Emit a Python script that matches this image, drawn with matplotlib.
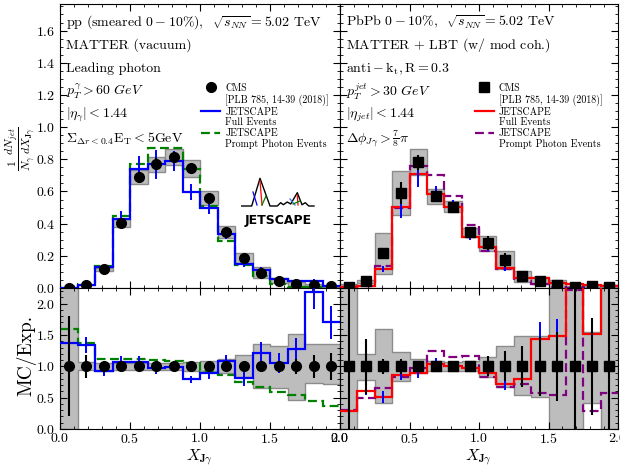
import numpy as np
import matplotlib
matplotlib.use("Agg")
import matplotlib.pyplot as plt
from matplotlib.ticker import MultipleLocator, AutoMinorLocator
from matplotlib.lines import Line2D

plt.rcParams['font.family'] = 'cmr10'
plt.rcParams['mathtext.fontset'] = 'cm'
plt.rcParams['axes.formatter.use_mathtext'] = True
plt.rcParams['axes.unicode_minus'] = False

# binning of X_Jgamma
edges = np.linspace(0, 2.0, 17)
centers = 0.5 * (edges[:-1] + edges[1:])

# ---- pp (left) ----
cms_pp = [0.0, 0.02, 0.115, 0.405, 0.69, 0.77, 0.815, 0.745,
          0.56, 0.345, 0.185, 0.095, 0.045, 0.025, 0.02, 0.01]
cms_pp_stat = [0.8, 0.18, 0.04, 0.04, 0.04, 0.05, 0.04, 0.04,
               0.05, 0.06, 0.08, 0.06, 0.08, 0.12, 0.18, 0.22]   # relative
cms_pp_sys_lo = [0.0, 0.94, 0.93, 0.94, 0.94, 0.94, 0.94, 0.93,
                 0.92, 0.90, 0.83, 0.66, 0.65, 0.46, 0.74, 0.72]
cms_pp_sys_hi = [3.0, 1.07, 1.06, 1.06, 1.06, 1.06, 1.06, 1.07,
                 1.08, 1.11, 1.18, 1.35, 1.33, 1.52, 1.36, 1.36]
full_pp = [0.0, 0.02, 0.13, 0.43, 0.74, 0.77, 0.79, 0.595,
           0.50, 0.335, 0.15, 0.114, 0.056, 0.045, 0.045, 0.014]
full_pp_err = [0.0, 0.005, 0.015, 0.05, 0.08, 0.09, 0.06, 0.05,
               0.04, 0.03, 0.02, 0.015, 0.01, 0.008, 0.008, 0.005]
prompt_pp = [0.0, 0.025, 0.135, 0.45, 0.77, 0.87, 0.87, 0.74,
             0.51, 0.295, 0.14, 0.075, 0.025, 0.005, 0.005, 0.002]
ratio_full_pp = [1.37, 1.34, 0.92, 1.07, 1.07, 0.97, 0.99, 0.79,
                 0.89, 1.08, 0.81, 1.21, 1.05, 1.28, 2.18, 1.70]
ratio_full_pp_err = [0.0, 0.13, 0.08, 0.1, 0.1, 0.1, 0.07, 0.06,
                     0.09, 0.1, 0.13, 0.18, 0.16, 0.17, 0.27, 0.27]
ratio_prompt_pp = [1.60, 1.37, 1.12, 1.11, 1.11, 1.10, 1.08, 1.05,
                   0.92, 0.86, 0.75, 0.67, 0.59, 0.55, 0.44, 0.37]

# ---- PbPb (right) ----
cms_aa = [0.008, 0.041, 0.215, 0.59, 0.78, 0.57, 0.506, 0.346,
          0.28, 0.174, 0.072, 0.045, 0.02, 0.004, 0.014, 0.008]
cms_aa_stat = [1.5, 0.44, 0.12, 0.12, 0.06, 0.05, 0.05, 0.05,
               0.16, 0.24, 0.33, 0.47, 0.55, 1.5, 0.77, 1.5]     # relative
cms_aa_sys_lo = [0.0, 0.78, 0.41, 0.77, 0.90, 0.92, 0.93, 0.92,
                 0.83, 0.67, 0.54, 0.51, 0.0, 0.0, 0.42, 0.0]
cms_aa_sys_hi = [3.0, 1.20, 1.60, 1.23, 1.11, 1.08, 1.07, 1.08,
                 1.15, 1.33, 1.49, 1.49, 2.6, 2.6, 1.54, 2.6]
full_aa = [0.008, 0.014, 0.118, 0.506, 0.71, 0.585, 0.506, 0.32,
           0.253, 0.122, 0.064, 0.064, 0.03, 0.025, 0.02, 0.015]
full_aa_err = [0.0, 0.005, 0.02, 0.07, 0.08, 0.05, 0.04, 0.02,
               0.02, 0.015, 0.01, 0.01, 0.005, 0.005, 0.003, 0.003]
prompt_aa = [0.005, 0.01, 0.135, 0.50, 0.76, 0.70, 0.57, 0.39,
             0.23, 0.115, 0.045, 0.025, 0.005, 0.0, 0.005, 0.01]
ratio_full_aa = [0.29, 0.60, 0.51, 0.86, 0.90, 1.03, 1.00, 0.97,
                 0.90, 0.72, 0.79, 1.44, 1.48, 2.6, 1.52, 2.6]
ratio_full_aa_err = [0.0, 0.06, 0.1, 0.08, 0.08, 0.1, 0.05, 0.05,
                     0.06, 0.1, 0.08, 0.27, 0.27, 0.0, 0.0, 0.0]
ratio_prompt_aa = [0.30, 0.50, 0.65, 0.83, 0.97, 1.24, 1.15, 1.16,
                   0.83, 0.67, 0.72, 0.57, 0.54, 2.22, 0.28, 0.57]

GRAY = '#bdbdbd'
GRAY_EDGE = '#8c8c8c'


def style(ax, ylim, major, minor, ylabels=True, xlabels=True):
    ax.set_xlim(0, 2.0)
    ax.set_ylim(*ylim)
    ax.xaxis.set_major_locator(MultipleLocator(0.5))
    ax.xaxis.set_minor_locator(AutoMinorLocator(5))
    ax.yaxis.set_major_locator(MultipleLocator(major))
    ax.yaxis.set_minor_locator(MultipleLocator(minor))
    ax.tick_params(which='both', direction='in', top=True, right=True, labelsize=10)
    ax.tick_params(axis='x', pad=2.5)
    ax.tick_params(which='major', length=5)
    ax.tick_params(which='minor', length=2.5)
    if not ylabels:
        ax.set_yticklabels([])
    if not xlabels:
        ax.set_xticklabels([])


def draw_top(ax, cms, stat, slo, shi, full, ferr, prompt, mcol, pcol, marker):
    cms = np.array(cms)
    ax.bar(centers, cms * (np.array(shi) - np.array(slo)), bottom=cms * np.array(slo),
           width=0.125, color=GRAY, edgecolor=GRAY_EDGE, linewidth=1, zorder=1)
    ax.stairs(prompt, edges, baseline=None, color=pcol, lw=1.6, ls=(0, (4, 2)), zorder=2)
    ax.stairs(full, edges, baseline=None, color=mcol, lw=1.6, zorder=3)
    ax.errorbar(centers, full, yerr=ferr, fmt='none', ecolor='blue', elinewidth=1.4, zorder=3)
    ax.errorbar(centers, cms, yerr=cms * np.array(stat), fmt=marker, color='black',
                ms=7, elinewidth=1.5, zorder=4)


def draw_ratio(ax, stat, slo, shi, rfull, rerr, rprompt, mcol, pcol, marker):
    ax.fill_between(edges, np.append(slo, slo[-1]), np.append(shi, shi[-1]), step='post',
                    facecolor=GRAY, edgecolor=GRAY_EDGE, linewidth=1, zorder=1)
    ax.stairs(rprompt, edges, baseline=None, color=pcol, lw=1.6, ls=(0, (4, 2)), zorder=2)
    ax.stairs(rfull, edges, baseline=None, color=mcol, lw=1.6, zorder=3)
    ax.errorbar(centers, rfull, yerr=rerr, fmt='none', ecolor='blue', elinewidth=1.4, zorder=3)
    ax.errorbar(centers, np.ones(16), yerr=stat, fmt=marker, color='black',
                ms=7, elinewidth=1.5, zorder=4)


fig = plt.figure(figsize=(6.2, 4.66), dpi=100)
ax_tl = fig.add_axes([60 / 620, 1 - 288 / 466, 280 / 620, 284 / 466])
ax_tr = fig.add_axes([340 / 620, 1 - 288 / 466, 278 / 620, 284 / 466])
ax_bl = fig.add_axes([60 / 620, 1 - 429 / 466, 280 / 620, 141 / 466])
ax_br = fig.add_axes([340 / 620, 1 - 429 / 466, 278 / 620, 141 / 466])

draw_top(ax_tl, cms_pp, cms_pp_stat, cms_pp_sys_lo, cms_pp_sys_hi,
         full_pp, full_pp_err, prompt_pp, 'blue', 'green', 'o')
draw_top(ax_tr, cms_aa, cms_aa_stat, cms_aa_sys_lo, cms_aa_sys_hi,
         full_aa, full_aa_err, prompt_aa, 'red', 'purple', 's')
draw_ratio(ax_bl, cms_pp_stat, cms_pp_sys_lo, cms_pp_sys_hi,
           ratio_full_pp, ratio_full_pp_err, ratio_prompt_pp, 'blue', 'green', 'o')
draw_ratio(ax_br, cms_aa_stat, cms_aa_sys_lo, cms_aa_sys_hi,
           ratio_full_aa, ratio_full_aa_err, ratio_prompt_aa, 'red', 'purple', 's')

style(ax_tl, (0, 1.765), 0.2, 0.05, xlabels=False)
style(ax_tr, (0, 1.765), 0.2, 0.05, ylabels=False, xlabels=False)
style(ax_bl, (0, 2.25), 0.5, 0.1)
style(ax_br, (0, 2.25), 0.5, 0.1, ylabels=False)

# keep the last tick label of the right panel inside the figure
fig.canvas.draw()
ax_br.get_xticklabels()[-1].set_horizontalalignment('right')

ax_tl.set_ylabel(r'$\frac{1}{N_\gamma}\frac{dN_{jet}}{dX_{\mathbf{J}\gamma}}$', fontsize=12)
ax_tl.yaxis.set_label_coords(-0.08, 0.49)
ax_bl.set_ylabel('MC/Exp.', fontsize=14)
ax_bl.yaxis.set_label_coords(-0.085, 0.52)
for ax in (ax_bl, ax_br):
    ax.set_xlabel(r'$X_{\mathbf{J}\gamma}$', fontsize=11.5, va='top')
    ax.xaxis.set_label_coords(0.5, -0.13)

left_txt = [r'pp (smeared $0-10\%$),  $\sqrt{s_{NN}} = 5.02$ TeV',
            'MATTER (vacuum)',
            'Leading photon',
            r'$p_T^{\gamma} > 60\ GeV$',
            r'$|\eta_{\gamma}| < 1.44$',
            r'$\Sigma_{\Delta r<0.4}\mathrm{E_T} < 5\mathrm{GeV}$']
right_txt = [r'PbPb $0-10\%$,  $\sqrt{s_{NN}} = 5.02$ TeV',
             r'MATTER $+$ LBT (w/ mod coh.)',
             r'$\mathrm{anti-k_t, R = 0.3}$',
             r'$p_T^{jet} > 30\ GeV$',
             r'$|\eta_{jet}| < 1.44$',
             r'$\Delta\phi_{J\gamma} > \frac{7}{8}\pi$']
for i, s in enumerate(left_txt):
    ax_tl.text(0.02, 0.937 - 0.082 * i, s, transform=ax_tl.transAxes, fontsize=10, va='center')
for i, s in enumerate(right_txt):
    ax_tr.text(0.02, 0.937 - 0.082 * i, s, transform=ax_tr.transAxes, fontsize=10, va='center')

# legends (two-line labels, handle on first line)
def legend(ax, marker, mcol, pcol, x):
    blank = Line2D([], [], ls='none')
    h = [ax.errorbar([], [], yerr=[], fmt=marker, color='black', ms=7, elinewidth=1.5),
         blank,
         Line2D([], [], color=mcol, lw=1.6), blank,
         Line2D([], [], color=pcol, lw=1.6, ls=(0, (4, 2))), blank]
    lab = ['CMS', '[PLB 785, 14-39 (2018)]', 'JETSCAPE', 'Full Events',
           'JETSCAPE', 'Prompt Photon Events']
    ax.legend(h, lab, loc='upper left', bbox_to_anchor=(x, 0.735), frameon=False,
              fontsize=7.2, handlelength=1.9, labelspacing=0.12, handletextpad=0.5,
              borderaxespad=0)

legend(ax_tl, 'o', 'blue', 'green', 0.49)
legend(ax_tr, 's', 'red', 'purple', 0.47)

# JETSCAPE logo sketch
tr = ax_tl.transAxes
def ac(px, py):
    return (np.array(px) - 60) / 280, (288 - np.array(py)) / 284
mx, my = ac([241.7, 251.7, 260, 270, 277.3, 280.7, 283.3, 287.3, 290.7, 297.3, 302, 305.3, 308.7, 314],
            [206, 206, 178.3, 206, 206, 202.7, 204.7, 202, 204, 192.7, 204.7, 202.7, 206, 206])
ax_tl.plot(mx, my, color='black', lw=1.0, transform=tr, zorder=5)
for (xs, ys, c) in [([260, 262], [181, 205], 'red'), ([253, 257], [192, 205], 'blue'),
                    ([262, 266], [205, 196], 'green'), ([297.3, 298], [195, 205], 'red'),
                    ([290, 295], [199, 205], 'royalblue'), ([293, 300], [204, 201], 'green')]:
    px, py = ac(xs, ys)
    ax_tl.plot(px, py, color=c, lw=0.9, transform=tr, zorder=5)
lx, ly = ac(278, 220.5)
ax_tl.text(lx, ly, 'JETSCAPE', transform=tr, fontsize=9, fontweight='bold',
           family='DejaVu Sans', ha='center', va='center', zorder=5)

fig.savefig('out.png', dpi=100)
